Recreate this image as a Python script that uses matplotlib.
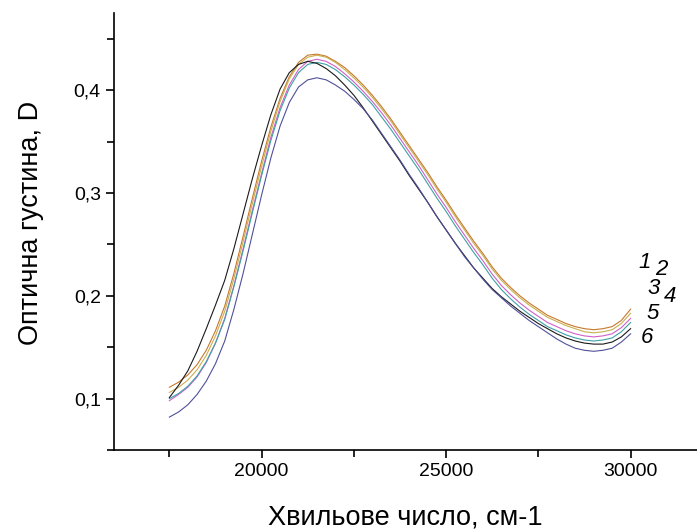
import matplotlib
matplotlib.use("Agg")
import matplotlib.pyplot as plt
from matplotlib.ticker import MultipleLocator, FuncFormatter

plt.rcParams["font.family"] = ["Liberation Sans", "DejaVu Sans"]

# wavenumber, cm-1
wavenumber = [17500, 17750, 18000, 18250, 18500, 18750, 19000, 19250, 19500, 19750,
              20000, 20250, 20500, 20750, 21000, 21250, 21500, 21750, 22000, 22250,
              22500, 22750, 23000, 23250, 23500, 23750, 24000, 24250, 24500, 24750,
              25000, 25250, 25500, 25750, 26000, 26250, 26500, 26750, 27000, 27250,
              27500, 27750, 28000, 28250, 28500, 28750, 29000, 29250, 29500, 29750,
              30000]

# optical density per sample
d1 = [0.111, 0.116, 0.123, 0.133, 0.147, 0.166, 0.190, 0.222, 0.258, 0.295,
      0.331, 0.364, 0.392, 0.413, 0.427, 0.434, 0.435, 0.433, 0.428, 0.422,
      0.414, 0.405, 0.395, 0.384, 0.372, 0.359, 0.346, 0.333, 0.320, 0.306,
      0.293, 0.279, 0.266, 0.253, 0.241, 0.228, 0.217, 0.208, 0.200, 0.193,
      0.187, 0.181, 0.177, 0.173, 0.170, 0.168, 0.167, 0.168, 0.170, 0.176,
      0.187]
d2 = [0.106, 0.111, 0.118, 0.128, 0.142, 0.161, 0.185, 0.217, 0.253, 0.290,
      0.326, 0.360, 0.389, 0.411, 0.425, 0.432, 0.434, 0.432, 0.427, 0.420,
      0.412, 0.403, 0.393, 0.382, 0.370, 0.357, 0.344, 0.331, 0.318, 0.304,
      0.291, 0.277, 0.264, 0.251, 0.239, 0.226, 0.215, 0.206, 0.198, 0.191,
      0.185, 0.179, 0.175, 0.171, 0.168, 0.165, 0.164, 0.165, 0.167, 0.173,
      0.183]
d3 = [0.098, 0.104, 0.111, 0.121, 0.135, 0.154, 0.178, 0.210, 0.246, 0.283,
      0.319, 0.354, 0.383, 0.405, 0.420, 0.428, 0.430, 0.428, 0.423, 0.416,
      0.408, 0.399, 0.389, 0.378, 0.366, 0.353, 0.340, 0.327, 0.313, 0.299,
      0.286, 0.272, 0.259, 0.246, 0.234, 0.221, 0.210, 0.201, 0.193, 0.186,
      0.180, 0.174, 0.170, 0.166, 0.163, 0.161, 0.160, 0.161, 0.163, 0.169,
      0.178]
d4 = [0.100, 0.105, 0.112, 0.122, 0.136, 0.154, 0.177, 0.209, 0.244, 0.281,
      0.317, 0.351, 0.380, 0.402, 0.417, 0.425, 0.427, 0.425, 0.420, 0.413,
      0.405, 0.396, 0.386, 0.374, 0.362, 0.349, 0.336, 0.323, 0.309, 0.295,
      0.282, 0.268, 0.255, 0.242, 0.230, 0.217, 0.206, 0.197, 0.189, 0.182,
      0.176, 0.170, 0.166, 0.162, 0.159, 0.157, 0.156, 0.157, 0.159, 0.165,
      0.174]
d5 = [0.101, 0.113, 0.127, 0.146, 0.168, 0.191, 0.215, 0.246, 0.280, 0.314,
      0.346, 0.376, 0.401, 0.417, 0.425, 0.428, 0.426, 0.421, 0.414, 0.405,
      0.395, 0.383, 0.370, 0.357, 0.344, 0.331, 0.317, 0.304, 0.291, 0.277,
      0.264, 0.251, 0.239, 0.227, 0.217, 0.207, 0.199, 0.192, 0.185, 0.179,
      0.173, 0.168, 0.163, 0.159, 0.156, 0.154, 0.153, 0.153, 0.155, 0.160,
      0.168]
d6 = [0.082, 0.087, 0.094, 0.104, 0.117, 0.134, 0.156, 0.187, 0.222, 0.260,
      0.298, 0.334, 0.365, 0.388, 0.403, 0.410, 0.412, 0.410, 0.405, 0.399,
      0.391, 0.382, 0.371, 0.358, 0.345, 0.332, 0.318, 0.305, 0.291, 0.277,
      0.264, 0.251, 0.238, 0.227, 0.216, 0.206, 0.198, 0.190, 0.183, 0.176,
      0.170, 0.164, 0.158, 0.153, 0.149, 0.147, 0.146, 0.147, 0.149, 0.155,
      0.163]

labels = ["1", "2", "3", "4", "5", "6"]
colors = ["#c8782a", "#c8b050", "#d060c8", "#3fa0a8", "#1a1a1a", "#50509a"]
# label anchor positions (data coords)
label_x = [30380, 30840, 30620, 31080, 30600, 30430]
label_y = [0.232, 0.226, 0.207, 0.199, 0.183, 0.159]

fig = plt.figure(figsize=(6.97, 5.31), dpi=100)
ax = fig.add_axes([0.1636, 0.1525, 0.8364, 0.823])

for d, c in zip([d1, d2, d3, d4, d5, d6], colors):
    ax.plot(wavenumber, d, color=c, lw=0.8)

for lab, lx, ly in zip(labels, label_x, label_y):
    ax.text(lx, ly, lab, fontsize=16, style="italic", ha="center", va="center")

ax.set_xlim(16000, 31800)
ax.set_ylim(0.05, 0.475)
ax.xaxis.set_major_locator(MultipleLocator(5000))
ax.xaxis.set_minor_locator(MultipleLocator(2500))
ax.yaxis.set_major_locator(MultipleLocator(0.1))
ax.yaxis.set_minor_locator(MultipleLocator(0.05))
ax.yaxis.set_major_formatter(FuncFormatter(lambda v, p: f"{v:.1f}".replace(".", ",")))

for s in ["top", "right"]:
    ax.spines[s].set_visible(False)
for s in ["left", "bottom"]:
    ax.spines[s].set_linewidth(1.2)
ax.tick_params(which="both", direction="out", width=1.2, labelsize=14)
ax.tick_params(which="major", length=6)
ax.tick_params(which="minor", length=5)

ax.set_xlabel("Хвильове число, см-1", fontsize=19.5)
ax.set_ylabel("Оптична густина, D", fontsize=19.5)
ax.xaxis.set_label_coords(0.5, -0.125)
ax.yaxis.set_label_coords(-0.12, 0.52)

fig.savefig("out.png", dpi=100)
